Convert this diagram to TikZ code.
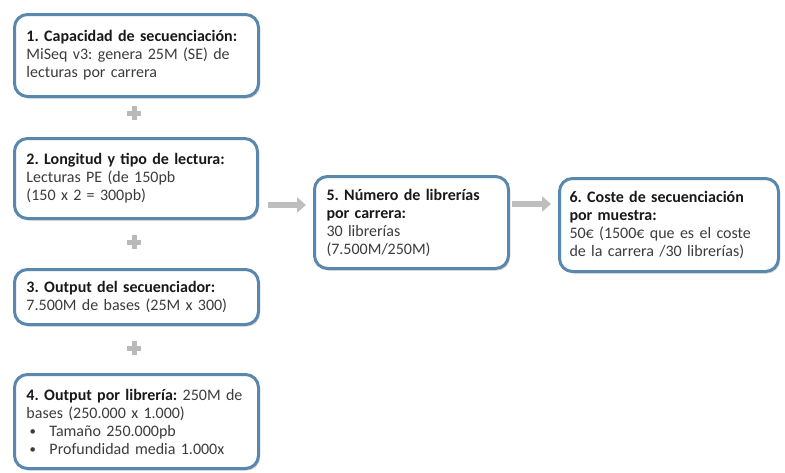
\documentclass[tikz,border=0pt]{standalone}
\usepackage{fontspec}
\setmainfont{Carlito}
\usetikzlibrary{shadows,arrows.meta,calc}
\definecolor{boxblue}{RGB}{90,135,174}
\definecolor{plusgray}{RGB}{185,185,185}
\definecolor{arrowgray}{RGB}{190,190,190}
\definecolor{bodytext}{RGB}{60,60,60}
\tikzset{
  stepbox/.style={draw=boxblue, line width=3pt, rounded corners=13pt, fill=white,
    anchor=north west, align=left, inner xsep=12pt, inner ysep=0pt,
    font=\fontsize{16}{18}\selectfont\frenchspacing, text=bodytext,
    drop shadow={opacity=0.35, shadow xshift=1.5pt, shadow yshift=-2pt}},
  plussign/.style={fill=plusgray},
  bigarrow/.style={draw=arrowgray, line width=6pt, -{Triangle[width=15pt,length=9pt]}},
}
\newcommand{\hd}[1]{\textbf{\textcolor{black!90}{#1}}}
\newcommand{\bul}{\hspace*{3pt}\makebox[20pt][l]{\raisebox{0.5pt}{\scalebox{0.8}{•}}}}
\begin{document}
\begin{tikzpicture}[x=1pt,y=-1pt]
\useasboundingbox (0,0) rectangle (785,472);
\node[stepbox, text width=220pt, minimum height=82pt] (b1) at (13,13)
  {\hd{1. Capacidad de secuenciación:}\\MiSeq v3: genera 25M (SE) de\\lecturas por carrera};
\node[stepbox, text width=219pt, minimum height=80pt] (b2) at (13,137)
  {\hd{2. Longitud y tipo de lectura:}\\Lecturas PE (de 150pb\\(150 x 2 = 300pb)};
\node[stepbox, text width=220pt, minimum height=55pt] (b3) at (13,268)
  {\hd{3. Output del secuenciador:}\\7.500M de bases (25M x 300)};
\node[stepbox, text width=220pt, minimum height=94pt] (b4) at (13,373)
  {\hd{4. Output por librería:} 250M de\\bases (250.000 x 1.000)\\\bul Tamaño 250.000pb\\\bul Profundidad media 1.000x};
\node[stepbox, text width=170pt, minimum height=92pt] (b5) at (313,175)
  {\hd{5. Número de librerías}\\\hd{por carrera:}\\30 librerías\\(7.500M/250M)};
\node[stepbox, inner xsep=10pt, text width=199pt, minimum height=93pt] (b6) at (558,177)
  {\hd{6. Coste de secuenciación}\\\hd{por muestra:}\\50€ (1500€ que es el coste\\de la carrera /30 librerías)};
% plus signs
\foreach \n/\yy in {p1/113,p2/242,p3/348}{
  \coordinate (\n) at (134,\yy);
  \fill[plussign] ($(\n)+(-7,-2.5)$) rectangle ($(\n)+(7,2.5)$);
  \fill[plussign] ($(\n)+(-2.5,-7)$) rectangle ($(\n)+(2.5,7)$);
}
% arrows
\coordinate (a1s) at (268,205);
\coordinate (a1e) at (306,205);
\coordinate (a2s) at (512,204);
\coordinate (a2e) at (551,204);
\draw[bigarrow] (a1s) -- (a1e);
\draw[bigarrow] (a2s) -- (a2e);
\end{tikzpicture}
\end{document}
